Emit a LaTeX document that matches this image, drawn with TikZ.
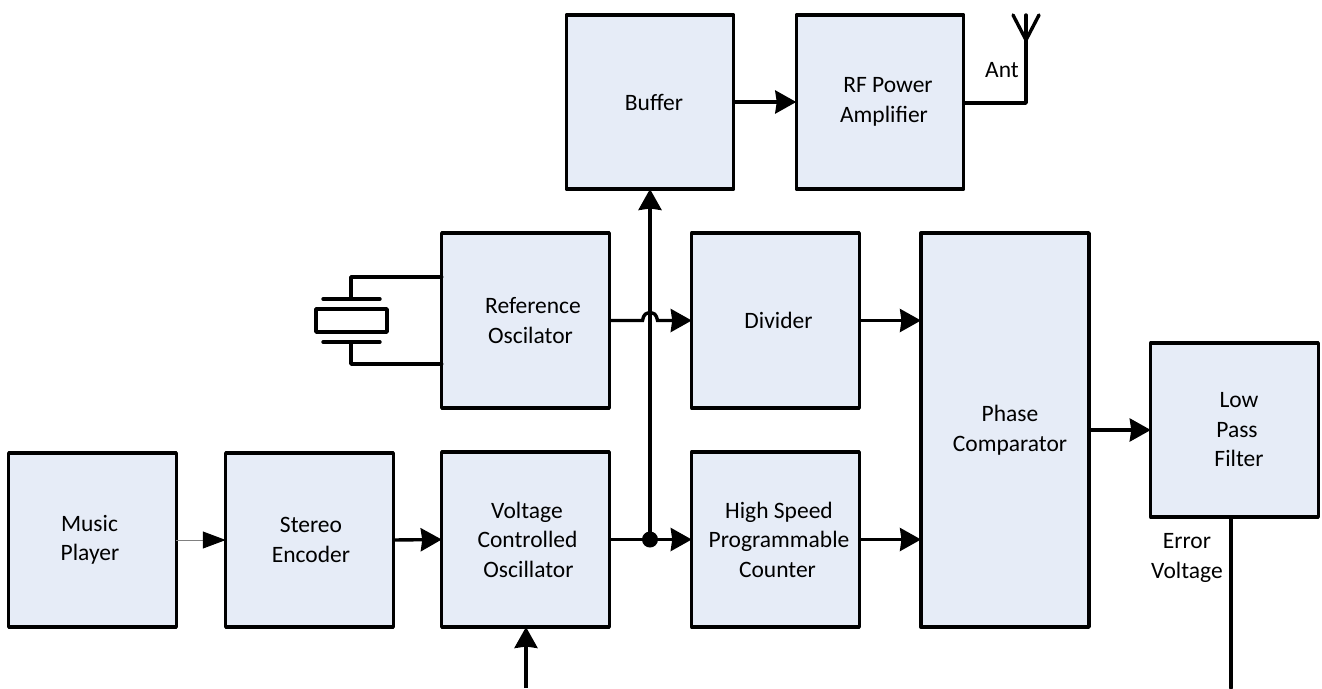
\documentclass[tikz,border=0pt]{standalone}
\usepackage{fontspec}
\setmainfont{Carlito}
\usetikzlibrary{arrows.meta,calc}
\definecolor{boxfill}{HTML}{E6ECF7}
\definecolor{thinline}{HTML}{808080}
\newcommand{\shiftline}[1]{\hspace*{#1pt}}
\tikzset{
  blockbox/.style={draw=black,fill=boxfill,line width=3.4pt,line join=round,rectangle,inner sep=0pt,outer sep=0pt,align=center,minimum width=#1,font=\fontsize{23.5}{29.5}\selectfont},
  blockbox/.default=167.5pt,
  lbl/.style={inner sep=0pt,align=center,font=\fontsize{23.5}{29.5}\selectfont},
  wire/.style={line width=3.4pt,line cap=round,line join=round},
  flow/.style={line width=3.4pt,-{Stealth[length=21pt,width=23pt,inset=1.5pt]}},
  thinflow/.style={line width=1pt,draw=thinline,-{Triangle[length=23pt,width=17pt,fill=black,color=black]}}
}
\begin{document}
\begin{tikzpicture}[x=1pt,y=-1pt]
\useasboundingbox (0,0) rectangle (1322,688);
% blocks
\node[blockbox,minimum height=174pt] (music) at (92.5,540) {\shiftline{-6}Music\\\shiftline{-5}Player};
\node[blockbox,minimum height=174pt] (stereo) at (309.5,540) {\shiftline{3}Stereo\\\shiftline{3}Encoder};
\node[blockbox,minimum height=175pt] (vco) at (525.5,539.5) {\shiftline{3}Voltage\\\shiftline{4}Controlled\\\shiftline{6}Oscillator};
\node[blockbox,minimum height=175pt] (counter) at (775.5,539.5) {\shiftline{7}High Speed\\\shiftline{7}Programmable\\\shiftline{4}Counter};
\node[blockbox,minimum height=175pt] (ref) at (525.5,320.5) {\shiftline{15}Reference\\\shiftline{10}Oscilator};
\node[blockbox,minimum height=175pt] (div) at (775.5,320.5) {\shiftline{6}Divider};
\node[blockbox,minimum height=174pt] (buffer) at (650,102) {\shiftline{8}Buffer};
\node[blockbox,minimum height=174pt] (rf) at (880,102) {\shiftline{16}RF Power\\\shiftline{8}Amplifier};
\node[blockbox=168pt,minimum height=394pt] (phase) at (1005,430) {\shiftline{10}Phase\\\shiftline{10}Comparator};
\node[blockbox,minimum height=174pt] (lpf) at (1234.5,430) {\shiftline{9}Low\\\shiftline{5}Pass\\\shiftline{9}Filter};
% free ends and junctions
\coordinate (vcoin) at (526,688);
\coordinate (errout) at (1231,688);
\coordinate (errtop) at (1231,517);
\coordinate (antfeed) at (1026,103);
\coordinate (antjoin) at (1026,40);
\coordinate (anttop) at (1026,15);
\coordinate (antl) at (1013,15);
\coordinate (antr) at (1039,15);
\coordinate (jn) at (650,539.5);
% crystal
\coordinate (xtop) at (351,277);
\coordinate (xbot) at (351,364);
\node[draw=black,line width=3.4pt,line join=round,fill=white,minimum width=71pt,minimum height=23pt,inner sep=0pt,outer sep=0pt] (xtal) at (351.5,320.5) {};
\coordinate (pt) at (351,299);
\coordinate (pb) at (351,342);
\draw[wire] (ref.west |- xtop) -- (xtop) -- (pt);
\draw[wire] (ref.west |- xbot) -- (xbot) -- (pb);
\draw[wire] ($(pt)+(-28,0)$) -- ($(pt)+(29,0)$);
\draw[wire] ($(pb)+(-28,0)$) -- ($(pb)+(29,0)$);
% connectors
\draw[thinflow] (music.east) -- (stereo.west);
\draw[flow] (stereo.east) -- (vco.west);
\draw[flow] (vco.east) -- (counter.west);
\draw[flow] (jn) -- (buffer.south);
\fill (jn) circle[radius=8pt];
\draw[flow] (buffer.east |- rf.west) -- (rf.west);
\draw[flow] (ref.east) -- (642.5,320.5) .. controls (644,313.5) and (646,313) .. (650,313) .. controls (654,313) and (656,313.5) .. (657.5,320.5) -- (div.west);
\draw[flow] (div.east) -- (div.east -| phase.west);
\draw[flow] (counter.east) -- (counter.east -| phase.west);
\draw[flow] (phase.east) -- (lpf.west);
\draw[flow] (vcoin) -- (vco.south -| vcoin);
\draw[wire] (errtop) -- (errout);
\draw[wire] (antfeed -| rf.east) -- (antfeed) -- (anttop);
\draw[wire] (antl) -- (antjoin) -- (antr);
% labels
\node[lbl] (antlabel) at (1002,70) {Ant};
\node[lbl] (errlabel) at (1187,558) {Error\\Voltage};
\end{tikzpicture}
\end{document}
